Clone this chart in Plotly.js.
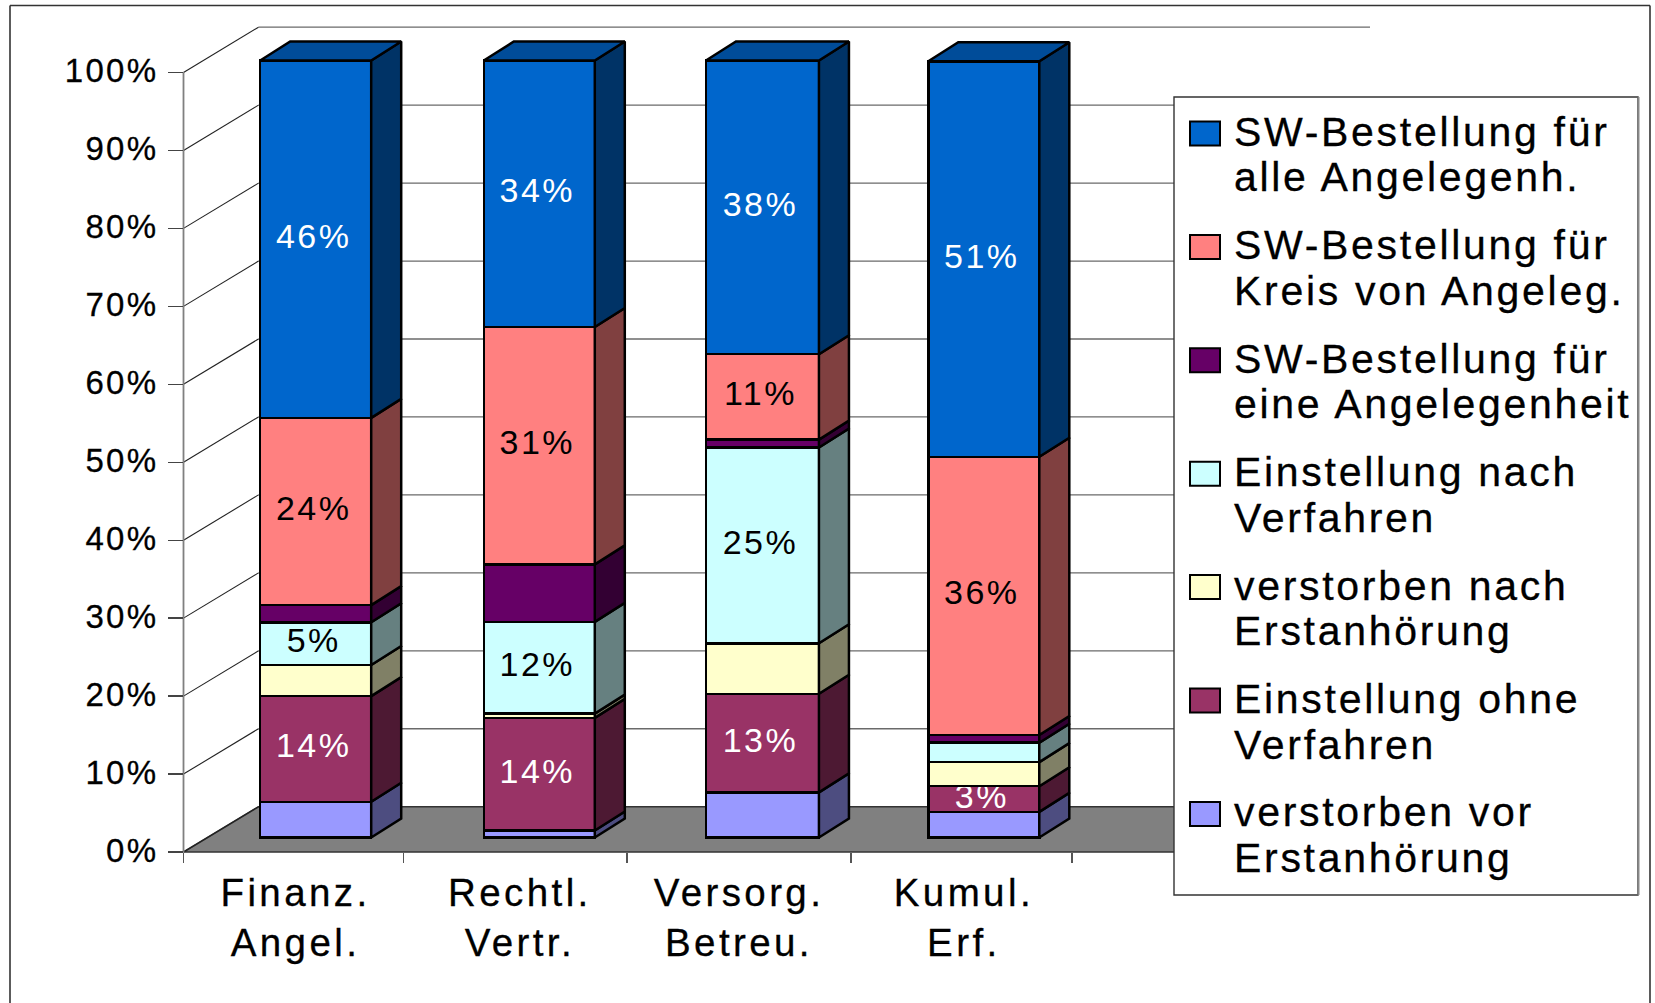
<!DOCTYPE html>
<html>
<head>
<meta charset="utf-8">
<script src="https://cdn.plot.ly/plotly-3.0.1.min.js"></script>
<style>
html,body{margin:0;padding:0;background:#fff;overflow:hidden}
.annotation-text{letter-spacing:2.7px;stroke:#000;stroke-width:.3px}
.xtick text{letter-spacing:3.4px;stroke:#000;stroke-width:.3px}
.ytick text{letter-spacing:2.3px;stroke:#000;stroke-width:.3px}
text.bartext{letter-spacing:2.5px}
.ready .xtick text{translate:0 -2px}
.ready .ytick text{translate:4px -2px}
.ready text.bartext{translate:-2px -3.5px}
</style>
</head>
<body>
<div id="chart" style="width:1655px;height:1003px"></div>
<script>
var categories = ["Finanz.<br>Angel.", "Rechtl.<br>Vertr.", "Versorg.<br>Betreu.", "Kumul.<br>Erf."];
var yTicks = [0,10,20,30,40,50,60,70,80,90,100];
var yTickLabels = ["0%","10%","20%","30%","40%","50%","60%","70%","80%","90%","100%"];

var seriesNames = ["verstorben vor Erstanhörung","Einstellung ohne Verfahren","verstorben nach Erstanhörung","Einstellung nach Verfahren","SW-Bestellung für eine Angelegenheit","SW-Bestellung für Kreis von Angeleg.","SW-Bestellung für alle Angelegenh."];
var verstorbenVor   = [4.6, 0.9, 5.8, 3.3];
var ohneVerfahren   = [13.6, 14.5, 12.7, 3.3];
var verstorbenNach  = [4.0, 0.55, 6.5, 3.1];
var nachVerfahren   = [5.5, 11.8, 25.2, 2.5];
var eineAngelegen   = [2.2, 7.4, 1.0, 1.0];
var kreisAngeleg    = [24.1, 30.55, 11.0, 35.8];
var alleAngelegen   = [46.0, 34.3, 37.8, 50.9];

var labelsVor   = ["","","",""];
var labelsOhne  = ["14%","14%","13%","3%"];
var labelsNach  = ["","","",""];
var labelsEinst = ["5%","12%","25%",""];
var labelsEine  = ["","","",""];
var labelsKreis = ["24%","31%","11%","36%"];
var labelsAlle  = ["46%","34%","38%","51%"];

var frontColors = ["#9999FF","#993366","#FFFFCC","#CCFFFF","#660066","#FF8080","#0066CC"];
var sideColors  = ["#4D4D80","#4D1933","#808066","#668080","#330033","#804040","#003366"];
var topColor = "#004C99";
var textColors = ["#000000","#FFFFFF","#000000","#000000","#FFFFFF","#000000","#FFFFFF"];

var legendLines = [
  ["SW-Bestellung für","alle Angelegenh."],
  ["SW-Bestellung für","Kreis von Angeleg."],
  ["SW-Bestellung für","eine Angelegenheit"],
  ["Einstellung nach","Verfahren"],
  ["verstorben nach","Erstanhörung"],
  ["Einstellung ohne","Verfahren"],
  ["verstorben vor","Erstanhörung"]
];
var legendColors = ["#0066CC","#FF8080","#660066","#CCFFFF","#FFFFCC","#993366","#9999FF"];

var W = 1655, H = 1003;
var FONT = '"Liberation Sans", Arial, sans-serif';
var allValues = [verstorbenVor, ohneVerfahren, verstorbenNach, nachVerfahren, eineAngelegen, kreisAngeleg, alleAngelegen];
var allLabels = [labelsVor, labelsOhne, labelsNach, labelsEinst, labelsEine, labelsKreis, labelsAlle];
var idx = categories.map(function(_, i){ return i; });

// axis scales (pixels per unit), front plane of the walls and front plane of the bars
var sx = 222.2, x0 = 294.6, sy = 7.795, y0 = 852;
var bsx = 222.7, bx0 = 315.7, bsy = 7.77, by0 = 837.5;
var wallDx = 75 / sx, wallDy = 45.3 / sy, wallRight = (1370 - x0) / sx;
var depthX = 30 / bsx, depthY = 19 / bsy;
var barCentre = [0, 0.004, 0.006, 0];
var labelCentre = [0.004, 0.014, 0, 0.012];
var barWidth = [111 / bsx, 111 / bsx, 113 / bsx, 111 / bsx];
var edge = {color:"#000000", width:2.5};
var barX = idx.map(function(i){ return i + barCentre[i]; });
var labelX = idx.map(function(i){ return i + labelCentre[i]; });

var traces = [];

// floor
var left = -0.5;
var floorRight = wallRight - wallDx;
traces.push({type:"scatter", mode:"lines", x:[left,left+wallDx,wallRight,floorRight,left], y:[0,wallDy,wallDy,0,0],
  fill:"toself", fillcolor:"#808080", line:{color:"#333333",width:1.6}, hoverinfo:"skip", showlegend:false});

// gridlines: diagonal on the side wall, horizontal on the back wall
var dgx=[], dgy=[], hgx=[], hgy=[];
yTicks.forEach(function(v){
  dgx.push(left,left+wallDx,null); dgy.push(v,v+wallDy,null);
  if (v>0){ hgx.push(left+wallDx,wallRight,null); hgy.push(v+wallDy,v+wallDy,null); }
});
traces.push({type:"scatter", mode:"lines", x:hgx, y:hgy, line:{color:"#6a6a6a",width:1.3}, hoverinfo:"skip", showlegend:false});
traces.push({type:"scatter", mode:"lines", x:dgx, y:dgy, line:{color:"#222222",width:1.1}, hoverinfo:"skip", showlegend:false});
traces.push({type:"scatter", mode:"lines", x:[left,left], y:[0,100], line:{color:"#808080",width:1.8}, hoverinfo:"skip", showlegend:false});

// front faces
allValues.forEach(function(vals, s){
  traces.push({type:"bar", xaxis:"x2", yaxis:"y2", name:seriesNames[s], x:barX, y:vals, width:barWidth,
    marker:{color:frontColors[s], line:edge},
    text:allLabels[s], textposition:"inside", insidetextanchor:"middle", textangle:0, constraintext:"none",
    textfont:{family:FONT,size:34,color:textColors[s]}, showlegend:false});
});

// side and top faces, derived from the same stacks
var running = idx.map(function(){ return 0; });
allValues.forEach(function(vals, s){
  var sxs=[], sys=[];
  idx.forEach(function(i){
    var xr = barX[i] + barWidth[i]/2, a = running[i], b = a + vals[i];
    sxs.push(xr, xr+depthX, xr+depthX, xr, xr, null);
    sys.push(a, a+depthY, b+depthY, b, a, null);
    running[i] = b;
  });
  traces.push({type:"scatter", mode:"lines", xaxis:"x2", yaxis:"y2", x:sxs, y:sys, fill:"toself",
    fillcolor:sideColors[s], line:edge, hoverinfo:"skip", showlegend:false});
});
var tx=[], ty=[];
idx.forEach(function(i){
  var xl=barX[i]-barWidth[i]/2, xr=barX[i]+barWidth[i]/2, t=running[i];
  tx.push(xl, xl+depthX, xr+depthX, xr, xl, null);
  ty.push(t, t+depthY, t+depthY, t, t, null);
});
traces.push({type:"scatter", mode:"lines", xaxis:"x2", yaxis:"y2", x:tx, y:ty, fill:"toself",
  fillcolor:topColor, line:edge, hoverinfo:"skip", showlegend:false});

// legend and frame
function px(v){ return v / W; }
function py(v){ return 1 - v / H; }
var shapes = [
  {type:"line",xref:"paper",yref:"paper",x0:px(10),x1:px(10),y0:py(5.5),y1:0,line:{color:"#333",width:1.6}},
  {type:"line",xref:"paper",yref:"paper",x0:px(10),x1:px(1650),y0:py(5.5),y1:py(5.5),line:{color:"#333",width:1.6}},
  {type:"line",xref:"paper",yref:"paper",x0:px(1650),x1:px(1650),y0:py(5.5),y1:0,line:{color:"#333",width:1.6}},
  {type:"rect",xref:"paper",yref:"paper",x0:px(1174),x1:px(1638),y0:py(97),y1:py(895),fillcolor:"#FFFFFF",line:{color:"#333",width:1.4}},
  {type:"line",xref:"paper",yref:"paper",x0:px(1638.5),x1:px(1638.5),y0:py(97),y1:py(895),line:{color:"#888",width:2}}
];
var annotations = [];
var legStep = 113.4, swatchY = 133.5, textY1 = 132, textY2 = 177.5;
legendLines.forEach(function(lines, i){
  var c = swatchY + i*legStep;
  shapes.push({type:"rect",xref:"paper",yref:"paper",x0:px(1190),x1:px(1220),y0:py(c-12),y1:py(c+12),
    fillcolor:legendColors[i],line:{color:"#000",width:2}});
  lines.forEach(function(t, k){
    annotations.push({xref:"paper",yref:"paper",x:px(1231.5),y:py((k===0?textY1:textY2)+i*legStep),
      text:t,showarrow:false,xanchor:"left",yanchor:"middle",align:"left",
      font:{family:FONT,size:41,color:"#000"}});
  });
});

var layout = {
  width:W, height:H, margin:{l:0,r:0,t:0,b:0}, paper_bgcolor:"#FFFFFF", plot_bgcolor:"#FFFFFF",
  barmode:"stack", showlegend:false, hovermode:false,
  xaxis:{range:[-x0/sx,(W-x0)/sx], domain:[0,1], anchor:"free", position:1-y0/H, showgrid:false, zeroline:false,
    showline:false, tickmode:"array", tickvals:labelX, ticktext:categories, ticks:"", tickangle:0, ticklabelstandoff:16,
    tickfont:{family:FONT,size:38.5,color:"#000"},
    minor:{tickmode:"array",tickvals:[-0.5,0.49,1.497,2.504,3.499],ticks:"outside",ticklen:10,tickwidth:1.6,tickcolor:"#555",showgrid:false}},
  yaxis:{range:[(y0-H)/sy,y0/sy], domain:[0,1], anchor:"free", position:183/W, showgrid:false, zeroline:false,
    showline:false, tickmode:"array", tickvals:yTicks, ticktext:yTickLabels, ticks:"outside", ticklen:15, tickwidth:1.4, tickcolor:"#444",
    ticklabelstandoff:7, tickfont:{family:FONT,size:33,color:"#000"}},
  xaxis2:{overlaying:"x", range:[-bx0/bsx,(W-bx0)/bsx], domain:[0,1], visible:false},
  yaxis2:{overlaying:"y", range:[(by0-H)/bsy,by0/bsy], domain:[0,1], visible:false},
  shapes:shapes, annotations:annotations
};
Plotly.newPlot("chart", traces, layout, {displayModeBar:false, staticPlot:true}).then(function(gd){
  gd.classList.add("ready");
});
</script>
</body>
</html>
